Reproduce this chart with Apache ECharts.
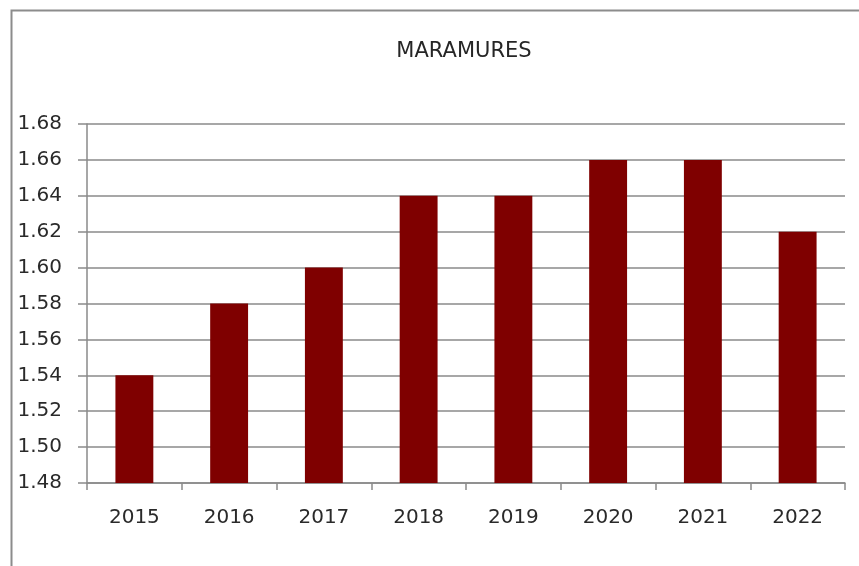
<!DOCTYPE html>
<html><head><meta charset="utf-8">
<script src="https://cdn.jsdelivr.net/npm/echarts@6/dist/echarts.min.js"></script>
<style>html,body{margin:0;padding:0;background:#fff}#c{width:859px;height:566px}</style>
</head><body><div id="c"></div>
<script>
const titleText = "MARAMURES";
const categories = ["2015","2016","2017","2018","2019","2020","2021","2022"];
const values = [1.54, 1.58, 1.60, 1.64, 1.64, 1.66, 1.66, 1.62];
const yMin = 1.48, yMax = 1.68, yStep = 0.02;

const chart = echarts.init(document.getElementById('c'));
chart.setOption({
  animation: false,
  backgroundColor: '#fff',
  graphic: [{
    type: 'rect', left: 9, top: 8, shape: {width: 900, height: 600},
    style: {fill: 'none', stroke: '#8c8c8c', lineWidth: 2}
  }, {
    type: 'text', x: 464, y: 52,
    style: {text: titleText, font: '21px "DejaVu Sans"', fill: '#262626',
      textAlign: 'center', textVerticalAlign: 'middle'}
  }],
  grid: {left: 87, right: 14, top: 124, bottom: 83},
  xAxis: {
    type: 'category', data: categories,
    axisLine: {lineStyle: {color: '#8a8a8a', width: 1.5}},
    axisTick: {show: true, length: 7, lineStyle: {color: '#8a8a8a', width: 1.5}},
    axisLabel: {fontFamily: 'DejaVu Sans', fontSize: 20, color: '#2a2a2a', margin: 25}
  },
  yAxis: {
    type: 'value', min: yMin, max: yMax, interval: yStep,
    axisLine: {show: true, lineStyle: {color: '#8a8a8a', width: 1.5}},
    axisTick: {show: true, length: 9, lineStyle: {color: '#8a8a8a', width: 1.5}},
    splitLine: {lineStyle: {color: '#8a8a8a', width: 1.5}},
    axisLabel: {fontFamily: 'DejaVu Sans', fontSize: 20, color: '#2a2a2a', margin: 25,
      formatter: v => v.toFixed(2)}
  },
  series: [{
    type: 'bar', data: values, barCategoryGap: '60%',
    itemStyle: {color: '#7f0000'}
  }]
});
</script></body></html>
